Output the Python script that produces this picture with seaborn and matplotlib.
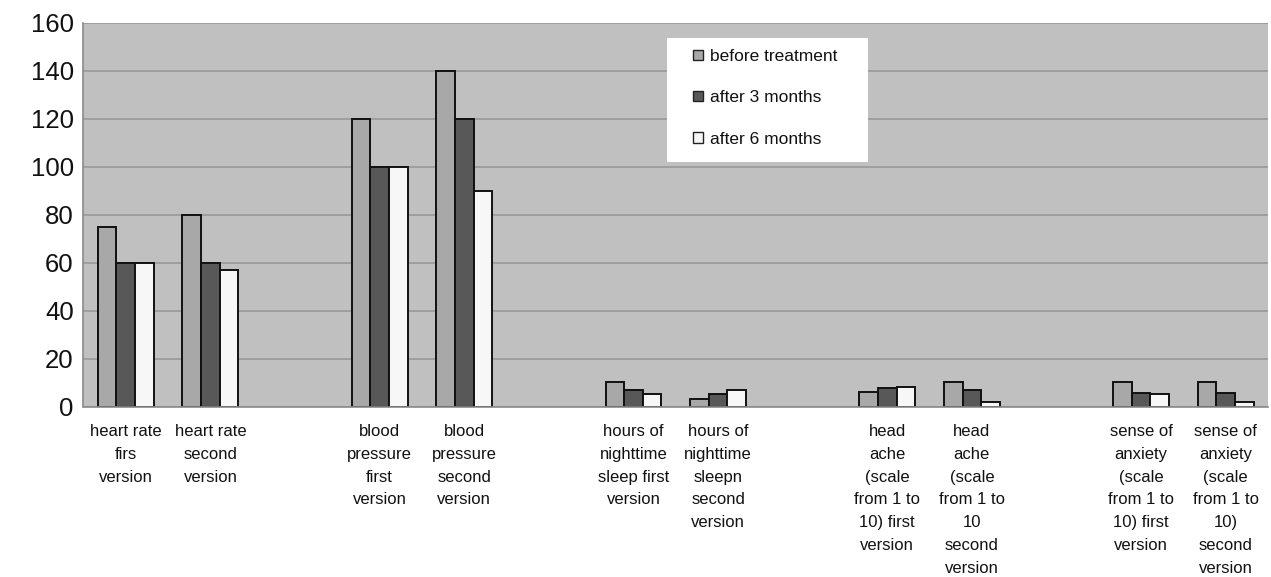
import numpy as np
import pandas as pd
import matplotlib
matplotlib.use("Agg")
import matplotlib.pyplot as plt
from matplotlib.patches import Patch, Rectangle
import seaborn as sns

# ---- data ----
categories = [
    "heart rate\nfirs\nversion",
    "heart rate\nsecond\nversion",
    "blood\npressure\nfirst\nversion",
    "blood\npressure\nsecond\nversion",
    "hours of\nnighttime\nsleep first\nversion",
    "hours of\nnighttime\nsleepn\nsecond\nversion",
    "head\nache\n(scale\nfrom 1 to\n10) first\nversion",
    "head\nache\n(scale\nfrom 1 to\n10\nsecond\nversion",
    "sense of\nanxiety\n(scale\nfrom 1 to\n10) first\nversion",
    "sense of\nanxiety\n(scale\nfrom 1 to\n10)\nsecond\nversion",
]
before_treatment = [75, 80, 120, 140, 10.3, 3.2, 6.4, 10.3, 10.3, 10.3]
after_3_months = [60, 60, 100, 120, 7.0, 5.3, 7.8, 7.0, 6.0, 6.0]
after_6_months = [60, 57, 100, 90, 5.3, 7.0, 8.5, 2.0, 5.3, 2.0]
periods = ["before treatment", "after 3 months", "after 6 months"]
yticks = [0, 20, 40, 60, 80, 100, 120, 140, 160]

# empty category slots between the groups
gaps = [" ", "  ", "   ", "    "]
order = [categories[0], categories[1], gaps[0],
         categories[2], categories[3], gaps[1],
         categories[4], categories[5], gaps[2],
         categories[6], categories[7], gaps[3],
         categories[8], categories[9]]

rows = []
for p, vals in zip(periods, [before_treatment, after_3_months, after_6_months]):
    for c, v in zip(categories, vals):
        rows.append({"category": c, "value": v, "period": p})
df = pd.DataFrame(rows)

colors = ["#a8a8a8", "#585858", "#f7f7f7"]

sns.set_theme(style="white")
plt.rcParams["font.family"] = ["Liberation Sans", "DejaVu Sans"]

fig = plt.figure(figsize=(12.71, 5.77), dpi=100)
ax = fig.add_axes([83.5 / 1271, 1 - 407 / 577, (1268 - 83.5) / 1271, (407 - 23) / 577])

sns.barplot(data=df, x="category", y="value", hue="period", order=order,
            hue_order=periods, palette=colors, saturation=1, width=0.66,
            edgecolor="#111111", linewidth=1.4, legend=False, ax=ax)

ax.set_facecolor("#c0c0c0")
ax.set_ylim(0, 160)
ax.set_xlim(-0.5, len(order) - 0.5)
ax.set_yticks(yticks)
ax.set_yticklabels([str(t) for t in yticks], fontsize=18.5, color="#111111")
ax.yaxis.grid(True, color="#999999", linewidth=1.2)
ax.set_axisbelow(True)
ax.set_xlabel("")
ax.set_ylabel("")

ax.tick_params(axis="x", which="major", length=0, pad=12, labelsize=12, labelcolor="#111111")
ax.set_xticks(np.arange(-0.5, len(order)), minor=True)
ax.tick_params(axis="x", which="minor", length=4, color="#999999", width=1)
ax.tick_params(axis="y", length=3, color="#999999", pad=4)
for lbl in ax.get_xticklabels():
    lbl.set_linespacing(1.66)
    lbl.set_verticalalignment("top")

for side in ["top", "right"]:
    ax.spines[side].set_visible(False)
ax.spines["left"].set_color("#8a8a8a")
ax.spines["bottom"].set_color("#8a8a8a")
ax.spines["left"].set_linewidth(1.2)
ax.spines["bottom"].set_linewidth(1.2)

# legend box
x0 = (667 - 83.5) / 1184.5
x1 = (868 - 83.5) / 1184.5
y1 = (407 - 38) / 384
y0 = (407 - 162) / 384
ax.add_patch(Rectangle((x0, y0), x1 - x0, y1 - y0, transform=ax.transAxes,
                       facecolor="white", edgecolor="none", zorder=5))
handles = [Patch(facecolor=c, edgecolor="#222222", linewidth=1.0) for c in colors]
leg = ax.legend(handles, periods, loc="upper left",
                bbox_to_anchor=((693 - 83.5) / 1184.5, (407 - 49) / 384),
                frameon=False, fontsize=12.5, handlelength=0.55, handleheight=0.55,
                handletextpad=0.45, labelspacing=1.52, borderpad=0, borderaxespad=0)
leg.set_zorder(6)
for t in leg.get_texts():
    t.set_color("#111111")

fig.savefig("out.png", dpi=100)
